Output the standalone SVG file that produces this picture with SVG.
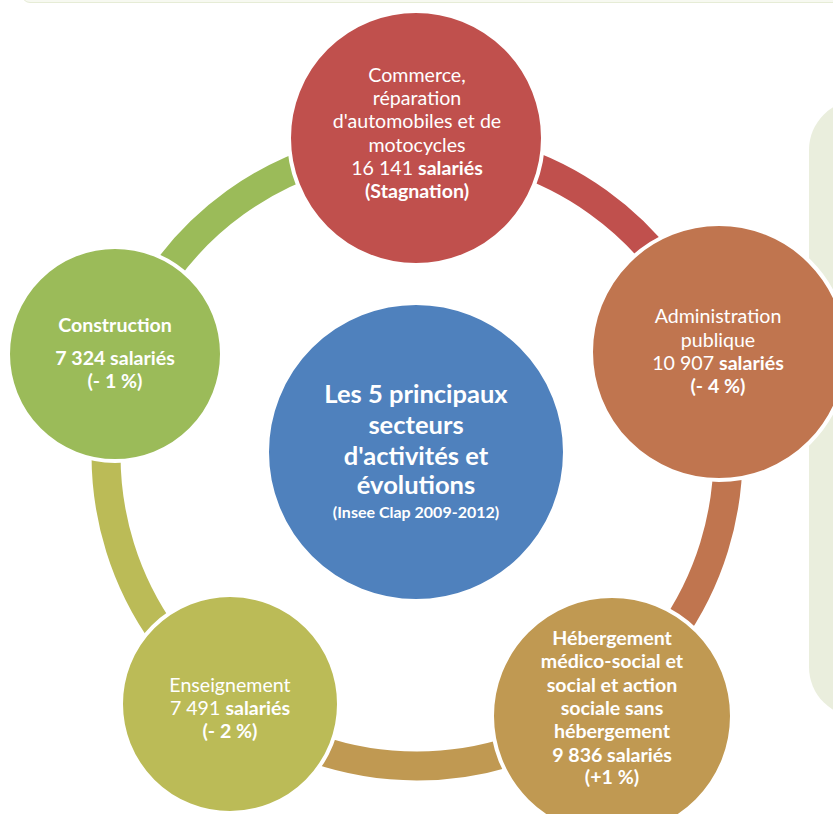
<svg xmlns="http://www.w3.org/2000/svg" width="833" height="814" viewBox="0 0 833 814">
  <style>
    .ring { fill: none; stroke-width: 29; }
    .node { stroke: #FFFFFF; stroke-width: 4; }
    .t { font-family: Lato, "Liberation Sans", sans-serif; font-size: 19.6px; fill: #FFFFFF; text-anchor: middle; }
    .b { font-weight: bold; }
    .title { font-family: Lato, "Liberation Sans", sans-serif; font-size: 25.5px; font-weight: bold; fill: #FFFFFF; text-anchor: middle; }
    .sub { font-family: Lato, "Liberation Sans", sans-serif; font-size: 16px; font-weight: bold; fill: #FFFFFF; text-anchor: middle; }
  </style>
  <rect width="833" height="814" fill="#FFFFFF"/>
  <g id="top-band">
    <rect x="22" y="-30" width="840" height="32.5" rx="8" fill="#F7F9F1" stroke="#E6ECD6" stroke-width="1"/>
  </g>
  <g id="side-panel">
    <rect x="809" y="100" width="120" height="617" rx="50" fill="#EAEEDD"/>
  </g>
  <g id="connectors">
    <path class="ring" stroke="#C0504D" d="M417,144 A311,311 0 0 1 711.4,354.8"/>
    <path class="ring" stroke="#C0754F" d="M711.4,354.8 A311,311 0 0 1 603.3,704"/>
    <path class="ring" stroke="#C09952" d="M603.3,704 A311,311 0 0 1 230.3,703.7"/>
    <path class="ring" stroke="#BBBB57" d="M230.3,703.7 A311,311 0 0 1 122.1,356.3"/>
    <path class="ring" stroke="#9BBB59" d="M122.1,356.3 A311,311 0 0 1 417,144"/>
  </g>
  <g id="center">
    <circle class="node" cx="416" cy="452" r="149" fill="#4F81BD"/>
    <text class="title" x="416" y="403">Les 5 principaux</text>
    <text class="title" x="416" y="434">secteurs</text>
    <text class="title" x="416" y="465">d'activités et</text>
    <text class="title" x="416" y="494">évolutions</text>
    <text class="sub" x="416" y="518">(Insee Clap 2009-2012)</text>
  </g>
  <g id="commerce">
    <circle class="node" cx="416" cy="138" r="127" fill="#C0504D"/>
    <text class="t" x="417" y="82">Commerce,</text>
    <text class="t" x="417" y="105">réparation</text>
    <text class="t" x="417" y="128">d'automobiles et de</text>
    <text class="t" x="417" y="152">motocycles</text>
    <text class="t" x="417" y="175">16 141 <tspan class="b">salariés</tspan></text>
    <text class="t b" x="417" y="198">(Stagnation)</text>
  </g>
  <g id="administration">
    <circle class="node" cx="719" cy="352" r="128" fill="#C0754F"/>
    <text class="t" x="718" y="323">Administration</text>
    <text class="t" x="718" y="347">publique</text>
    <text class="t" x="718" y="370">10 907 <tspan class="b">salariés</tspan></text>
    <text class="t b" x="718" y="393">(- 4 %)</text>
  </g>
  <g id="hebergement">
    <circle class="node" cx="612" cy="716" r="120" fill="#C09952"/>
    <text class="t b" x="612" y="645">Hébergement</text>
    <text class="t b" x="612" y="668">médico-social et</text>
    <text class="t b" x="612" y="692">social et action</text>
    <text class="t b" x="612" y="715">sociale sans</text>
    <text class="t b" x="612" y="738">hébergement</text>
    <text class="t b" x="612" y="762">9 836 salariés</text>
    <text class="t b" x="612" y="784">(+1 %)</text>
  </g>
  <g id="enseignement">
    <circle class="node" cx="230" cy="704" r="109" fill="#BBBB57"/>
    <text class="t" x="230" y="692">Enseignement</text>
    <text class="t" x="230" y="715">7 491 <tspan class="b">salariés</tspan></text>
    <text class="t b" x="230" y="738">(- 2 %)</text>
  </g>
  <g id="construction">
    <circle class="node" cx="115" cy="354" r="107" fill="#9BBB59"/>
    <text class="t b" x="115" y="332">Construction</text>
    <text class="t b" x="115" y="365">7 324 salariés</text>
    <text class="t b" x="115" y="388">(- 1 %)</text>
  </g>
</svg>
